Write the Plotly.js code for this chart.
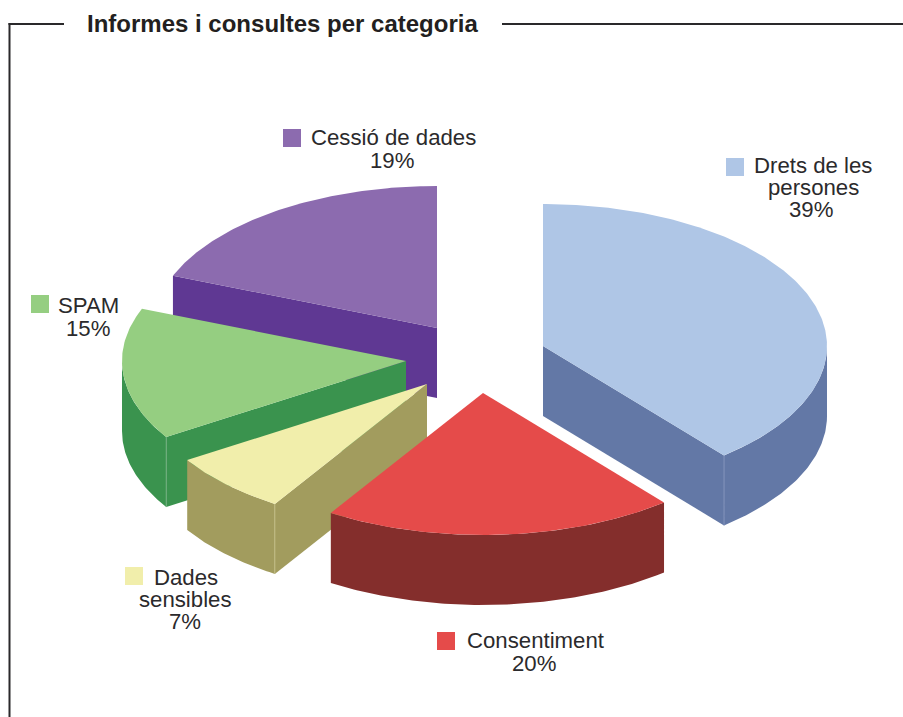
<!DOCTYPE html>
<html>
<head>
<meta charset="utf-8">
<script src="https://cdn.plot.ly/plotly-3.0.1.min.js"></script>
<style>html,body{margin:0;padding:0;background:#fff;overflow:hidden}#chart{width:903px;height:717px}</style>
</head>
<body>
<div id="chart"></div>
<script>
// Data
const categories = ["Drets de les persones", "Consentiment", "Dades sensibles", "SPAM", "Cessió de dades"];
const shares = [39, 20, 7, 15, 19];
const titleText = "Informes i consultes per categoria";

// Styles
const topColors = ["#AFC6E6", "#E54B4A", "#F1EEAB", "#95CE81", "#8C6BAF"];
const wallColors = ["#6378A6", "#842E2C", "#A29C5E", "#3A934E", "#5F3893"];
const seamColors = ["#8A9AC0", "#A85A58", "#C9C48C", "#7DB58A", "#8468AC"];

// Layout of the exploded, tilted pie (in screen units of the axes)
const apexX = [543, 483, 427, 406, 437];
const apexY = [346, 393, 384, 361, 328];
const radiusX = 284, radiusY = 142, depth = 70;
const drawOrder = [4, 3, 2, 0, 1];

// Label layout: one row per text line
const labelLines = [
  {t: ["Drets de les", "persones", "39%"], x: [813, 813, 811], y: [165, 187, 209]},
  {t: ["Consentiment", "20%"], x: [535, 534], y: [640, 663]},
  {t: ["Dades", "sensibles", "7%"], x: [185.5, 185, 185], y: [577, 599, 621]},
  {t: ["SPAM", "15%"], x: [88, 88], y: [305, 328]},
  {t: ["Cessió de dades", "19%"], x: [393, 392], y: [137, 160]}
];
const swatchX = [735, 446, 134, 40, 292];
const swatchY = [167, 641, 576, 304, 138];

function pt(i, deg, drop) {
  const a = deg * Math.PI / 180;
  return [apexX[i] + radiusX * Math.sin(a), apexY[i] - radiusY * Math.cos(a) + (drop || 0)];
}
function arc(i, from, to, drop) {
  const n = Math.max(2, Math.ceil(Math.abs(to - from) * 1.5));
  const out = [];
  for (let k = 0; k <= n; k++) out.push(pt(i, from + (to - from) * k / n, drop));
  return out;
}
function poly(points, color) {
  return {
    type: "scatter", mode: "lines", fill: "toself", fillcolor: color,
    x: points.map(p => p[0]), y: points.map(p => p[1]),
    line: {width: 0, color: color}, hoverinfo: "skip", showlegend: false
  };
}
function seam(p, color) {
  return {
    type: "scatter", mode: "lines", x: [p[0], p[0]], y: [p[1], p[1] + depth],
    line: {width: 0.8, color: color}, hoverinfo: "skip", showlegend: false
  };
}

const starts = [], ends = [];
let sum = 0;
const total = shares.reduce((a, b) => a + b, 0);
shares.forEach((v, i) => { starts[i] = sum / total * 360; sum += v; ends[i] = sum / total * 360; });

const traces = [];
drawOrder.forEach(i => {
  const s = starts[i], e = ends[i], apex = [apexX[i], apexY[i]];
  const apexLow = [apexX[i], apexY[i] + depth];
  // radial walls facing the viewer
  if (s > 180 && s < 360) {
    const a = pt(i, s), b = pt(i, s, depth);
    traces.push(poly([apex, a, b, apexLow, apex], wallColors[i]));
  }
  if (e > 0 && e < 180) {
    const a = pt(i, e), b = pt(i, e, depth);
    traces.push(poly([apex, a, b, apexLow, apex], wallColors[i]));
  }
  // outer wall: front half of the rim only
  const from = Math.max(s, 90), to = Math.min(e, 270);
  if (to > from) {
    const upper = arc(i, from, to, 0), lower = arc(i, to, from, depth);
    traces.push(poly(upper.concat(lower, [upper[0]]), wallColors[i]));
  }
  // seam between the walls
  if (s > 180 && s < 270) traces.push(seam(pt(i, s), seamColors[i]));
  if (e > 90 && e < 180) traces.push(seam(pt(i, e), seamColors[i]));
  // top face
  traces.push(poly([apex].concat(arc(i, s, e, 0), [apex]), topColors[i]));
});

// legend swatches
categories.forEach((c, i) => {
  traces.push({
    type: "scatter", mode: "markers", x: [swatchX[i]], y: [swatchY[i]], name: c,
    marker: {symbol: "square", size: 18, color: topColors[i], line: {width: 0}},
    hoverinfo: "skip", showlegend: false
  });
});

const fontFam = '"Liberation Sans", Arial, sans-serif';
const annotations = [];
labelLines.forEach(l => l.t.forEach((t, k) => annotations.push({
  x: l.x[k], y: l.y[k], xref: "x", yref: "y", text: t, showarrow: false,
  xanchor: "center", yanchor: "middle", font: {family: fontFam, size: 22.2, color: "#2b2a2c"}
})));
annotations.push({
  x: 282.5, y: 23.5, xref: "x", yref: "y", text: "<b>" + titleText + "</b>", showarrow: false,
  xanchor: "center", yanchor: "middle", font: {family: fontFam, size: 24, color: "#231f20"}
});

const frame = {color: "#2a292b", width: 2};
const layout = {
  width: 903, height: 717, margin: {l: 0, r: 0, t: 0, b: 0},
  paper_bgcolor: "#fff", plot_bgcolor: "#fff", showlegend: false,
  xaxis: {range: [0, 903], visible: false, fixedrange: true},
  yaxis: {range: [717, 0], visible: false, fixedrange: true},
  annotations: annotations,
  shapes: [
    {type: "line", xref: "x", yref: "y", x0: 9.5, x1: 9.5, y0: 23, y1: 717, line: frame},
    {type: "line", xref: "x", yref: "y", x0: 8.5, x1: 64, y0: 24, y1: 24, line: frame},
    {type: "line", xref: "x", yref: "y", x0: 502, x1: 903, y0: 24, y1: 24, line: frame}
  ]
};
Plotly.newPlot("chart", traces, layout, {staticPlot: true, displayModeBar: false});
</script>
</body>
</html>
